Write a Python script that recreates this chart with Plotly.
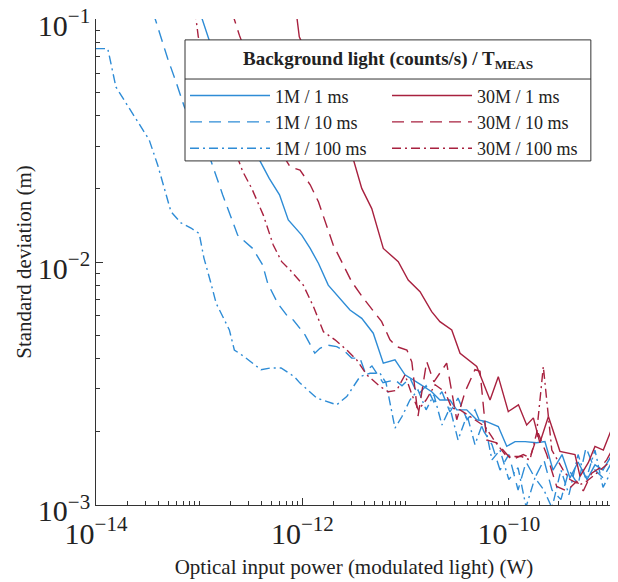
import plotly.graph_objects as go

# Optical input power (W) and standard deviation (m)

# 1M counts/s background
x_1m_1ms = [1.0e-13, 1.25e-13, 3.55e-13, 4.77e-13, 6.0e-13, 7.3e-13, 9.85e-13, 1.19e-12, 1.43e-12,
            1.78e-12, 2.89e-12, 3.76e-12, 4.86e-12, 6.08e-12, 7.89e-12, 9.87e-12, 1.33e-11, 1.79e-11,
            2.15e-11, 2.69e-11, 3.13e-11, 3.91e-11, 4.89e-11, 6.1e-11, 7.91e-11, 9.55e-11, 1.15e-10,
            1.44e-10, 1.86e-10, 2.24e-10, 2.68e-10, 3.28e-10, 3.92e-10, 4.69e-10, 5.73e-10, 6.84e-10,
            8.18e-10, 1.0e-9]
y_1m_1ms = [0.109, 0.082, 0.028, 0.0221, 0.0189, 0.0149, 0.0129, 0.01137, 0.00988,
            0.00803, 0.00634, 0.00586, 0.00509, 0.00383, 0.00395, 0.00343, 0.00317, 0.00292,
            0.0027, 0.0027, 0.00246, 0.00246, 0.00224, 0.0022, 0.0021, 0.00174, 0.00182,
            0.00182, 0.0018, 0.00182, 0.00139, 0.00161, 0.00129, 0.0015, 0.00127, 0.00146,
            0.00139, 0.00161]

x_1m_10ms = [3.57e-14, 4.95e-14, 5.96e-14, 7.17e-14, 1.21e-13, 1.69e-13, 2.36e-13, 3.3e-13, 4.12e-13,
             4.61e-13, 5.76e-13, 7.21e-13, 8.16e-13, 1.06e-12, 1.32e-12, 1.48e-12, 1.72e-12, 2.15e-12,
             2.59e-12, 3.0e-12, 3.61e-12, 4.04e-12, 4.72e-12, 6.04e-12, 7.89e-12, 9.23e-12, 1.1e-11,
             1.32e-11, 1.58e-11, 1.88e-11, 2.25e-11, 2.69e-11, 3.22e-11, 3.94e-11, 4.7e-11, 5.75e-11,
             6.87e-11, 8.22e-11, 1.0e-10, 1.23e-10, 1.47e-10, 1.79e-10, 2.19e-10, 2.62e-10, 3.2e-10,
             3.83e-10, 4.69e-10, 5.6e-10, 6.84e-10, 8.18e-10, 1.0e-9]
y_1m_10ms = [0.107, 0.0689, 0.0552, 0.0436, 0.0285, 0.0189, 0.0129, 0.01137, 0.00973,
             0.00817, 0.00676, 0.00596, 0.00577, 0.00501, 0.00421, 0.00441, 0.00455, 0.00448,
             0.00428, 0.00402, 0.00402, 0.00352, 0.00373, 0.00318, 0.00327, 0.00309, 0.00333,
             0.00284, 0.00309, 0.00265, 0.00292, 0.00241, 0.00275, 0.00224, 0.00246, 0.002,
             0.00177, 0.00139, 0.00161, 0.00115, 0.0015, 0.00129, 0.00153, 0.00115, 0.00105,
             0.00139, 0.00121, 0.00172, 0.00139, 0.00129, 0.0015]

x_1m_100ms = [1.0e-14, 1.3e-14, 1.56e-14, 2.1e-14, 3.28e-14, 3.96e-14, 5.33e-14, 6.66e-14, 8.33e-14,
              1.0e-13, 1.11e-13, 1.3e-13, 1.46e-13, 1.96e-13, 2.19e-13, 2.74e-13, 3.97e-13, 4.96e-13,
              6.21e-13, 8.35e-13, 9.48e-13, 1.38e-12, 2.15e-12, 2.69e-12, 3.61e-12, 4.52e-12, 5.65e-12,
              6.46e-12, 7.89e-12, 9.23e-12, 1.1e-11, 1.32e-11, 1.58e-11, 1.88e-11, 2.25e-11, 2.69e-11,
              3.22e-11, 3.94e-11, 4.7e-11, 5.75e-11, 6.87e-11, 8.22e-11, 1.0e-10, 1.23e-10, 1.47e-10,
              1.79e-10, 2.19e-10, 2.62e-10, 3.2e-10, 3.83e-10, 4.69e-10, 5.6e-10, 6.84e-10, 8.18e-10,
              1.0e-9]
y_1m_100ms = [0.0757, 0.0757, 0.0526, 0.043, 0.0318, 0.0251, 0.0161, 0.0145, 0.0138,
              0.0131, 0.0104, 0.00817, 0.00676, 0.00525, 0.00434, 0.00407, 0.0036, 0.00366,
              0.00366, 0.00337, 0.00317, 0.00275, 0.00258, 0.00279, 0.00337, 0.00348, 0.00348,
              0.00318, 0.00207, 0.00231, 0.0027, 0.00297, 0.00246, 0.00284, 0.00213, 0.00251,
              0.00185, 0.00234, 0.00177, 0.00224, 0.00153, 0.00168, 0.00127, 0.00142, 0.00098,
              0.00129, 0.00115, 0.00097, 0.00139, 0.0011, 0.00161, 0.00127, 0.00168, 0.00118,
              0.00139]

# 30M counts/s background
x_30m_1ms = [8.67e-13, 9.33e-13, 3.0e-12, 3.76e-12, 4.7e-12, 6.08e-12, 8.49e-12, 1.06e-11, 1.38e-11,
             1.79e-11, 2.15e-11, 2.8e-11, 3.37e-11, 4.89e-11, 6.58e-11, 7.91e-11, 9.89e-11, 1.24e-10,
             1.49e-10, 1.73e-10, 2.0e-10, 2.42e-10, 3.13e-10, 4.38e-10, 4.9e-10, 5.89e-10, 6.84e-10,
             8.24e-10, 1.0e-9]
y_30m_1ms = [0.109, 0.0846, 0.028, 0.0201, 0.0166, 0.01137, 0.01003, 0.00843, 0.00755,
             0.00624, 0.00568, 0.00525, 0.00421, 0.00371, 0.0027, 0.00337, 0.00242, 0.00258,
             0.00213, 0.00228, 0.0018, 0.00231, 0.00166, 0.00161, 0.00131, 0.00149, 0.00174,
             0.00168, 0.00207]

x_30m_10ms = [2.08e-13, 2.45e-13, 6.78e-13, 7.59e-13, 9.48e-13, 1.19e-12, 1.43e-12, 1.66e-12, 1.99e-12,
              2.4e-12, 3.0e-12, 3.89e-12, 5.05e-12, 5.86e-12, 7.06e-12, 8.2e-12, 1.03e-11, 1.15e-11,
              1.32e-11, 1.6e-11, 1.88e-11, 2.5e-11, 3.13e-11, 3.77e-11, 4.7e-11, 5.26e-11, 6.1e-11,
              7.64e-11, 1.07e-10, 1.38e-10, 1.6e-10, 1.93e-10, 2.33e-10, 2.91e-10, 3.64e-10, 4.55e-10,
              5.27e-10, 6.36e-10, 7.65e-10, 8.89e-10, 1.0e-9]
y_30m_10ms = [0.107, 0.086, 0.0267, 0.0247, 0.0239, 0.0208, 0.0177, 0.0147, 0.01175,
              0.01003, 0.0083, 0.0071, 0.00615, 0.00568, 0.00478, 0.00448, 0.00434, 0.00387,
              0.00232, 0.00389, 0.00321, 0.00383, 0.00224, 0.00292, 0.0036, 0.00355, 0.00185,
              0.0018, 0.00153, 0.00161, 0.00156, 0.00197, 0.00161, 0.00119, 0.00114, 0.00125,
              0.00114, 0.00135, 0.00142, 0.00153, 0.00168]

x_30m_100ms = [9.1e-14, 9.8e-14, 2.27e-13, 2.64e-13, 3.23e-13, 4.18e-13, 5.22e-13, 6.3e-13, 7.59e-13,
               9.12e-13, 1.02e-12, 1.28e-12, 1.6e-12, 2.07e-12, 2.69e-12, 3.36e-12, 4.2e-12, 5.65e-12,
               6.8e-12, 8.2e-12, 9.87e-12, 1.15e-11, 1.33e-11, 1.58e-11, 1.93e-11, 2.41e-11, 2.8e-11,
               3.37e-11, 4.21e-11, 5.88e-11, 7.35e-11, 9.55e-11, 1.33e-10, 1.6e-10, 1.86e-10, 2.16e-10,
               2.33e-10, 2.61e-10, 3.37e-10, 3.92e-10, 4.9e-10, 5.69e-10, 7.11e-10, 8.55e-10, 1.0e-9]
y_30m_100ms = [0.109, 0.0846, 0.028, 0.0236, 0.0201, 0.0156, 0.01175, 0.01003, 0.00927,
               0.00843, 0.00803, 0.00655, 0.00516, 0.00478, 0.00434, 0.00395, 0.00343, 0.00307,
               0.00292, 0.00296, 0.00343, 0.00284, 0.00246, 0.0027, 0.00312, 0.00292, 0.0025,
               0.00246, 0.00231, 0.0021, 0.00182, 0.00158, 0.00158, 0.00153, 0.00197, 0.00371,
               0.0027, 0.00168, 0.00139, 0.00127, 0.00121, 0.00125, 0.00135, 0.00144, 0.00153]

BLUE = "#2E8CD6"
RED = "#A8213F"
SERIF = "Liberation Serif, Times New Roman, serif"
DASH = "12px,7px"
DASHDOT = "9px,4px,2px,4px"

series = [
    ("1M / 1 ms", x_1m_1ms, y_1m_1ms, BLUE, "solid", 1),
    ("1M / 10 ms", x_1m_10ms, y_1m_10ms, BLUE, DASH, 3),
    ("1M / 100 ms", x_1m_100ms, y_1m_100ms, BLUE, DASHDOT, 5),
    ("30M / 1 ms", x_30m_1ms, y_30m_1ms, RED, "solid", 2),
    ("30M / 10 ms", x_30m_10ms, y_30m_10ms, RED, DASH, 4),
    ("30M / 100 ms", x_30m_100ms, y_30m_100ms, RED, DASHDOT, 6),
]

fig = go.Figure()
for name, xs, ys, col, dash, rank in series:
    fig.add_trace(go.Scatter(x=xs, y=ys, mode="lines", name=name, legendrank=rank,
                             line=dict(color=col, width=1.4, dash=dash)))

axis_common = dict(
    type="log", showgrid=False, zeroline=False, showline=True, linecolor="#333333", linewidth=1,
    ticks="inside", ticklen=7, tickcolor="#333333", exponentformat="power", automargin=False,
    ticklabeloverflow="allow",
    tickfont=dict(family=SERIF, size=24, color="#222222"),
    minor=dict(ticks="inside", ticklen=4, tickcolor="#333333", dtick="D1", showgrid=False),
)

# page body adds 8px around the figure, so the figure is 8px smaller than the window
fig.update_layout(
    width=610, height=574,
    margin=dict(l=88, r=6, t=11, b=77),
    paper_bgcolor="white", plot_bgcolor="white",
    font=dict(family=SERIF, size=18, color="#222222"),
    xaxis=dict(axis_common, range=[-14, -9], dtick=2, tick0=-14, ticklabelstandoff=3,
               title=dict(text="Optical input power (modulated light) (W)", font=dict(size=21), standoff=10)),
    yaxis=dict(axis_common, range=[-3.001, -0.999], dtick=1, ticklabelshift=6,
               title=dict(text="Standard deviation (m)", font=dict(size=21), standoff=0)),
    legend=dict(
        orientation="h", x=0.1725, y=0.880, xanchor="left", yanchor="top",
        entrywidth=107, bgcolor="rgba(0,0,0,0)", borderwidth=0,
        font=dict(family=SERIF, size=18, color="#222222"), itemwidth=80,
    ),
    showlegend=True,
)

# legend frame, title row and separator
fig.add_shape(type="rect", xref="paper", yref="paper", x0=0.1725, x1=0.959, y0=0.708, y1=0.957,
              line=dict(color="#333333", width=1), fillcolor="white", layer="above")
fig.add_shape(type="line", xref="paper", yref="paper", x0=0.1725, x1=0.959, y0=0.8765, y1=0.8765,
              line=dict(color="#333333", width=1), layer="above")
fig.add_annotation(xref="paper", yref="paper", x=0.566, y=0.9156, xanchor="center", yanchor="middle",
                   showarrow=False, text="<b>Background light (counts/s) / T<sub>MEAS</sub></b>",
                   font=dict(family=SERIF, size=19, color="#222222"))

fig.write_html("out.html")
